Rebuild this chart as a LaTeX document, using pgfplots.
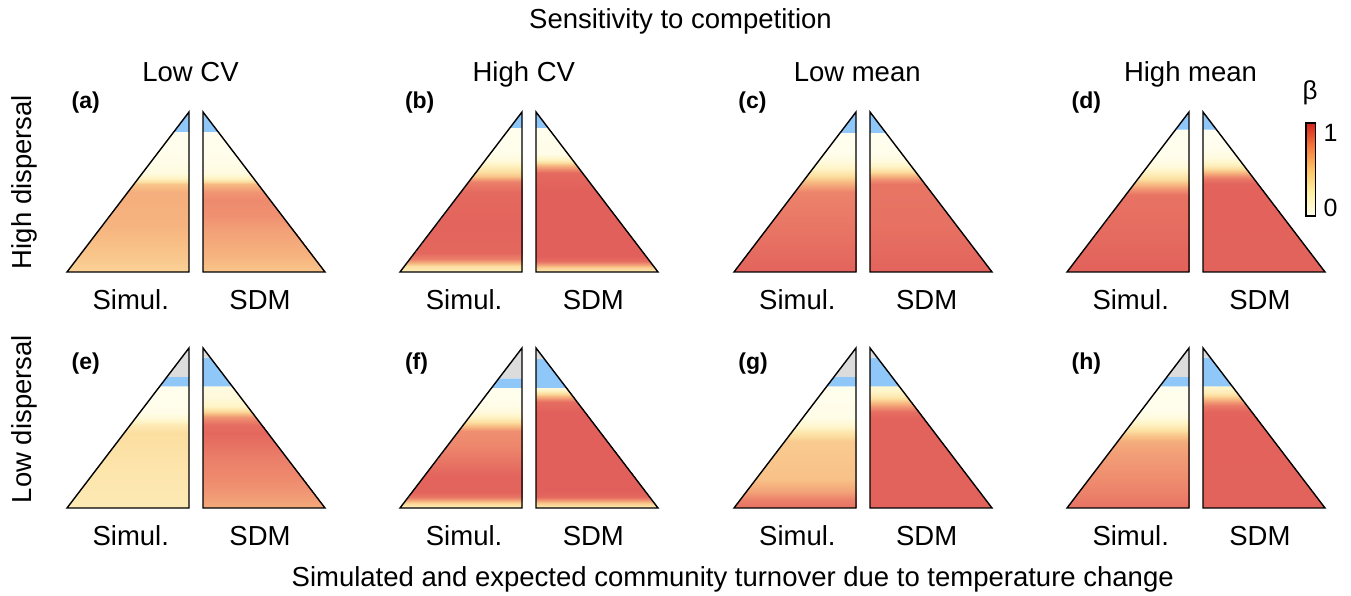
\documentclass[border=0pt]{standalone}
\usepackage{fontspec}
\setmainfont{Liberation Sans}
\usepackage{pgfplots}
\pgfplotsset{compat=1.18}
\definecolor{bluec}{RGB}{143,200,248}
\definecolor{grayc}{RGB}{220,220,220}
\pgfplotsset{
 colormap={betabar}{rgb255(0cm)=(255,255,238); rgb255(2.5cm)=(255,240,165); rgb255(5cm)=(254,195,100); rgb255(7.5cm)=(245,120,60); rgb255(10cm)=(212,36,30)},
 colormap={betatri}{rgb255(0cm)=(255,255,242); rgb255(2cm)=(255,245,200); rgb255(4cm)=(252,222,160); rgb255(5.5cm)=(247,186,130); rgb255(7.5cm)=(238,138,110); rgb255(10cm)=(224,90,88)},
 tri/.style={width=122bp,height=160bp,scale only axis,xmin=0,xmax=1,ymin=0,ymax=1,hide axis,anchor=south west,clip=false,colormap name=betatri,point meta min=0,point meta max=1},
 betasurf/.style={surf,shader=interp,mesh/cols=2,point meta=explicit},
}
\tikzset{outl/.style={line width=1.4bp,line join=miter}}
\newcommand{\lab}{\fontsize{27.5bp}{32bp}\selectfont}
\newcommand{\plab}{\fontsize{23bp}{27bp}\selectfont\bfseries}
\newcommand{\SimAx}[5]{%
\begin{axis}[tri,at={(#1bp,#2bp)}]
\addplot[betasurf] coordinates {#3};
\addplot[fill=bluec,draw=none] coordinates {(#4,#4) (1,#4) (1,#5) (#5,#5)};
\addplot[fill=grayc,draw=none] coordinates {(#5,#5) (1,#5) (1,1)};
\draw[outl] (axis cs:0,0) -- (axis cs:1,0) -- (axis cs:1,1) -- cycle;
\end{axis}}
\newcommand{\SdmAx}[7]{%
\begin{axis}[tri,at={(#1bp,#2bp)}]
\addplot[betasurf] coordinates {#3};
\addplot[fill=bluec,draw=none] coordinates {(0,#4) (#5,#4) (#7,#6) (0,#6)};
\addplot[fill=grayc,draw=none] coordinates {(0,#6) (#7,#6) (0,1)};
\draw[outl] (axis cs:0,0) -- (axis cs:1,0) -- (axis cs:0,1) -- cycle;
\end{axis}}
\begin{document}
\begin{tikzpicture}[every node/.style={inner sep=0pt,outer sep=0pt}]
\path[use as bounding box] (0,0) rectangle (1351bp,596bp);
% ---------- (a) ----------
\SimAx{67}{324}{(0,0)[0.45] (1,0)[0.45] (0.1,0.1)[0.5] (1,0.1)[0.5] (0.3,0.3)[0.58] (1,0.3)[0.58] (0.5,0.5)[0.6] (1,0.5)[0.6] (0.55,0.55)[0.5] (1,0.55)[0.5] (0.58,0.58)[0.25] (1,0.58)[0.25] (0.62,0.62)[0.08] (1,0.62)[0.08] (0.7,0.7)[0.04] (1,0.7)[0.04] (0.875,0.875)[0.02] (1,0.875)[0.02]}{0.875}{1}
\SdmAx{203}{324}{(0,0)[0.5] (1,0)[0.5] (0,0.1)[0.58] (0.9,0.1)[0.58] (0,0.25)[0.65] (0.75,0.25)[0.65] (0,0.35)[0.72] (0.65,0.35)[0.72] (0,0.45)[0.75] (0.55,0.45)[0.75] (0,0.5)[0.7] (0.5,0.5)[0.7] (0,0.55)[0.55] (0.45,0.55)[0.55] (0,0.58)[0.25] (0.42,0.58)[0.25] (0,0.62)[0.08] (0.38,0.62)[0.08] (0,0.7)[0.04] (0.3,0.7)[0.04] (0,0.875)[0.02] (0.125,0.875)[0.02]}{0.875}{0.125}{1}{0}
% ---------- (b) ----------
\SimAx{400}{324}{(0,0)[0.25] (1,0)[0.25] (0.04,0.04)[0.4] (1,0.04)[0.4] (0.08,0.08)[0.8] (1,0.08)[0.8] (0.12,0.12)[0.93] (1,0.12)[0.93] (0.3,0.3)[0.95] (1,0.3)[0.95] (0.5,0.5)[0.92] (1,0.5)[0.92] (0.56,0.56)[0.8] (1,0.56)[0.8] (0.6,0.6)[0.5] (1,0.6)[0.5] (0.65,0.65)[0.3] (1,0.65)[0.3] (0.7,0.7)[0.1] (1,0.7)[0.1] (0.75,0.75)[0.03] (1,0.75)[0.03] (0.9,0.9)[0.02] (1,0.9)[0.02]}{0.9}{1}
\SdmAx{536}{324}{(0,0)[0.3] (1,0)[0.3] (0,0.03)[0.5] (0.97,0.03)[0.5] (0,0.07)[0.9] (0.93,0.07)[0.9] (0,0.1)[0.97] (0.9,0.1)[0.97] (0,0.5)[0.97] (0.5,0.5)[0.97] (0,0.62)[0.92] (0.38,0.62)[0.92] (0,0.66)[0.6] (0.34,0.66)[0.6] (0,0.7)[0.25] (0.3,0.7)[0.25] (0,0.74)[0.05] (0.26,0.74)[0.05] (0,0.9)[0.02] (0.1,0.9)[0.02]}{0.9}{0.1}{1}{0}
% ---------- (c) ----------
\SimAx{734}{324}{(0,0)[0.95] (1,0)[0.95] (0.2,0.2)[0.88] (1,0.2)[0.88] (0.4,0.4)[0.82] (1,0.4)[0.82] (0.5,0.5)[0.78] (1,0.5)[0.78] (0.55,0.55)[0.6] (1,0.55)[0.6] (0.6,0.6)[0.4] (1,0.6)[0.4] (0.65,0.65)[0.2] (1,0.65)[0.2] (0.7,0.7)[0.08] (1,0.7)[0.08] (0.75,0.75)[0.03] (1,0.75)[0.03] (0.87,0.87)[0.01] (1,0.87)[0.01]}{0.87}{1}
\SdmAx{870}{324}{(0,0)[0.95] (1,0)[0.95] (0,0.3)[0.88] (0.7,0.3)[0.88] (0,0.55)[0.86] (0.45,0.55)[0.86] (0,0.58)[0.7] (0.42,0.58)[0.7] (0,0.62)[0.45] (0.38,0.62)[0.45] (0,0.66)[0.2] (0.34,0.66)[0.2] (0,0.7)[0.08] (0.3,0.7)[0.08] (0,0.75)[0.03] (0.25,0.75)[0.03] (0,0.87)[0.01] (0.13,0.87)[0.01]}{0.87}{0.13}{1}{0}
% ---------- (d) ----------
\SimAx{1067}{324}{(0,0)[0.96] (1,0)[0.96] (0.3,0.3)[0.9] (1,0.3)[0.9] (0.48,0.48)[0.87] (1,0.48)[0.87] (0.52,0.52)[0.7] (1,0.52)[0.7] (0.57,0.57)[0.45] (1,0.57)[0.45] (0.62,0.62)[0.25] (1,0.62)[0.25] (0.66,0.66)[0.1] (1,0.66)[0.1] (0.72,0.72)[0.03] (1,0.72)[0.03] (0.89,0.89)[0.01] (1,0.89)[0.01]}{0.89}{1}
\SdmAx{1203}{324}{(0,0)[0.96] (1,0)[0.96] (0,0.55)[0.95] (0.45,0.55)[0.95] (0,0.58)[0.85] (0.42,0.58)[0.85] (0,0.63)[0.5] (0.37,0.63)[0.5] (0,0.67)[0.25] (0.33,0.67)[0.25] (0,0.72)[0.08] (0.28,0.72)[0.08] (0,0.78)[0.02] (0.22,0.78)[0.02] (0,0.89)[0.01] (0.11,0.89)[0.01]}{0.89}{0.11}{1}{0}
% ---------- (e) ----------
\SimAx{67}{88}{(0,0)[0.3] (1,0)[0.3] (0.2,0.2)[0.33] (1,0.2)[0.33] (0.4,0.4)[0.38] (1,0.4)[0.38] (0.47,0.47)[0.4] (1,0.47)[0.4] (0.52,0.52)[0.3] (1,0.52)[0.3] (0.56,0.56)[0.12] (1,0.56)[0.12] (0.6,0.6)[0.04] (1,0.6)[0.04] (0.76,0.76)[0.02] (1,0.76)[0.02]}{0.76}{0.82}
\SdmAx{203}{88}{(0,0)[0.62] (1,0)[0.62] (0,0.1)[0.7] (0.9,0.1)[0.7] (0,0.2)[0.76] (0.8,0.2)[0.76] (0,0.3)[0.8] (0.7,0.3)[0.8] (0,0.4)[0.88] (0.6,0.4)[0.88] (0,0.47)[0.93] (0.53,0.47)[0.93] (0,0.52)[0.9] (0.48,0.52)[0.9] (0,0.57)[0.7] (0.43,0.57)[0.7] (0,0.6)[0.45] (0.4,0.6)[0.45] (0,0.64)[0.2] (0.36,0.64)[0.2] (0,0.7)[0.1] (0.3,0.7)[0.1] (0,0.76)[0.08] (0.24,0.76)[0.08]}{0.76}{0.24}{0.94}{0.06}
% ---------- (f) ----------
\SimAx{400}{88}{(0,0)[0.25] (1,0)[0.25] (0.03,0.03)[0.45] (1,0.03)[0.45] (0.07,0.07)[0.85] (1,0.07)[0.85] (0.1,0.1)[0.95] (1,0.1)[0.95] (0.2,0.2)[0.95] (1,0.2)[0.95] (0.3,0.3)[0.85] (1,0.3)[0.85] (0.4,0.4)[0.76] (1,0.4)[0.76] (0.48,0.48)[0.73] (1,0.48)[0.73] (0.52,0.52)[0.5] (1,0.52)[0.5] (0.56,0.56)[0.25] (1,0.56)[0.25] (0.6,0.6)[0.1] (1,0.6)[0.1] (0.65,0.65)[0.04] (1,0.65)[0.04] (0.75,0.75)[0.02] (1,0.75)[0.02]}{0.75}{0.81}
\SdmAx{536}{88}{(0,0)[0.3] (1,0)[0.3] (0,0.03)[0.5] (0.97,0.03)[0.5] (0,0.07)[0.92] (0.93,0.07)[0.92] (0,0.1)[0.97] (0.9,0.1)[0.97] (0,0.6)[0.97] (0.4,0.6)[0.97] (0,0.66)[0.9] (0.34,0.66)[0.9] (0,0.7)[0.55] (0.3,0.7)[0.55] (0,0.73)[0.25] (0.27,0.73)[0.25] (0,0.75)[0.12] (0.25,0.75)[0.12]}{0.75}{0.25}{0.93}{0.07}
% ---------- (g) ----------
\SimAx{734}{88}{(0,0)[0.88] (1,0)[0.88] (0.05,0.05)[0.8] (1,0.05)[0.8] (0.1,0.1)[0.65] (1,0.1)[0.65] (0.18,0.18)[0.52] (1,0.18)[0.52] (0.3,0.3)[0.5] (1,0.3)[0.5] (0.42,0.42)[0.48] (1,0.42)[0.48] (0.47,0.47)[0.35] (1,0.47)[0.35] (0.52,0.52)[0.15] (1,0.52)[0.15] (0.57,0.57)[0.05] (1,0.57)[0.05] (0.76,0.76)[0.02] (1,0.76)[0.02]}{0.76}{0.82}
\SdmAx{870}{88}{(0,0)[0.96] (1,0)[0.96] (0,0.55)[0.96] (0.45,0.55)[0.96] (0,0.6)[0.9] (0.4,0.6)[0.9] (0,0.65)[0.6] (0.35,0.65)[0.6] (0,0.7)[0.3] (0.3,0.7)[0.3] (0,0.74)[0.18] (0.26,0.74)[0.18] (0,0.76)[0.15] (0.24,0.76)[0.15]}{0.76}{0.24}{0.94}{0.06}
% ---------- (h) ----------
\SimAx{1067}{88}{(0,0)[0.88] (1,0)[0.88] (0.08,0.08)[0.8] (1,0.08)[0.8] (0.2,0.2)[0.73] (1,0.2)[0.73] (0.35,0.35)[0.66] (1,0.35)[0.66] (0.42,0.42)[0.6] (1,0.42)[0.6] (0.47,0.47)[0.45] (1,0.47)[0.45] (0.52,0.52)[0.25] (1,0.52)[0.25] (0.57,0.57)[0.08] (1,0.57)[0.08] (0.62,0.62)[0.03] (1,0.62)[0.03] (0.76,0.76)[0.02] (1,0.76)[0.02]}{0.76}{0.82}
\SdmAx{1203}{88}{(0,0)[0.96] (1,0)[0.96] (0,0.6)[0.95] (0.4,0.6)[0.95] (0,0.64)[0.85] (0.36,0.64)[0.85] (0,0.68)[0.55] (0.32,0.68)[0.55] (0,0.72)[0.3] (0.28,0.72)[0.3] (0,0.76)[0.15] (0.24,0.76)[0.15]}{0.76}{0.24}{0.94}{0.06}
% ---------- colour bar ----------
\begin{axis}[at={(1306bp,380bp)},anchor=south west,width=9.5bp,height=93bp,scale only axis,xmin=0,xmax=1,ymin=0,ymax=1,hide axis,clip=false,colormap name=betabar,point meta min=0,point meta max=1]
\addplot[surf,shader=interp,mesh/cols=2,point meta=explicit] coordinates {(0,0)[0] (1,0)[0] (0,1)[1] (1,1)[1]};
\draw[line width=1.1bp] (axis cs:0,0) rectangle (axis cs:1,1);
\end{axis}
\node[anchor=base west] at (1323.5bp,454.4bp) {\fontsize{25bp}{29bp}\selectfont 1};
\node[anchor=base west] at (1323.5bp,379bp) {\fontsize{25bp}{29bp}\selectfont 0};
\node[anchor=center] at (1310bp,503.5bp) {\fontsize{26bp}{30bp}\selectfont β};
% ---------- texts ----------
\node[anchor=base] at (680.5bp,567.7bp) {\lab Sensitivity to competition};
\node[anchor=base] at (190.5bp,514.3bp) {\lab Low CV};
\node[anchor=base] at (523.8bp,514.3bp) {\lab High CV};
\node[anchor=base] at (857.2bp,514.3bp) {\lab Low mean};
\node[anchor=base] at (1190.5bp,514.3bp) {\lab High mean};
\node[rotate=90,anchor=base] at (31.7bp,414bp) {\lab High dispersal};
\node[rotate=90,anchor=base] at (31.7bp,177bp) {\lab Low dispersal};
\node[anchor=base west] at (71.7bp,487.8bp) {\plab (a)};
\node[anchor=base west] at (405bp,487.8bp) {\plab (b)};
\node[anchor=base west] at (738.4bp,487.8bp) {\plab (c)};
\node[anchor=base west] at (1071.7bp,487.8bp) {\plab (d)};
\node[anchor=base west] at (71.7bp,226.8bp) {\plab (e)};
\node[anchor=base west] at (405bp,226.8bp) {\plab (f)};
\node[anchor=base west] at (738.4bp,226.8bp) {\plab (g)};
\node[anchor=base west] at (1071.7bp,226.8bp) {\plab (h)};
\foreach \k [evaluate=\k as \xa using 130.8+333.3*\k, evaluate=\k as \xb using 260+333.3*\k] in {0,1,2,3} {
  \node[anchor=base] at (\xa bp,286.7bp) {\lab Simul.};
  \node[anchor=base] at (\xb bp,286.7bp) {\lab SDM};
  \node[anchor=base] at (\xa bp,50bp) {\lab Simul.};
  \node[anchor=base] at (\xb bp,50bp) {\lab SDM};
}
\node[anchor=base] at (732.7bp,10bp) {\lab Simulated and expected community turnover due to temperature change};
\end{tikzpicture}
\end{document}
